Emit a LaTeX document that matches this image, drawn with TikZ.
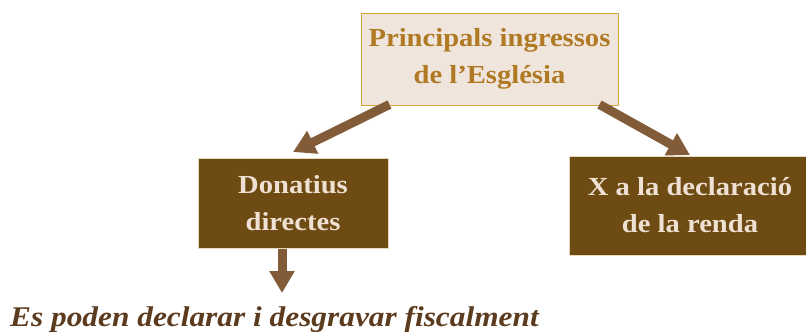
\documentclass[tikz,border=0pt]{standalone}
\usepackage{fontspec}
\setmainfont{Liberation Serif}
\newfontfamily\boxfont[FakeStretch=1.1]{Liberation Serif}
\usetikzlibrary{arrows.meta,calc}
\definecolor{topfill}{HTML}{EFE5DC}
\definecolor{topline}{HTML}{D4A53A}
\definecolor{toptext}{HTML}{B07A24}
\definecolor{darkfill}{HTML}{6E4B12}
\definecolor{darkline}{HTML}{E8D8C0}
\definecolor{lighttext}{HTML}{EEE0D2}
\definecolor{arrowcol}{HTML}{825C38}
\definecolor{notecol}{HTML}{5C3B1E}
\tikzset{
  topbox/.style={draw=topline, line width=1pt, fill=topfill, text=toptext,
    font=\boxfont\bfseries\fontsize{26}{37}\selectfont, align=center, inner sep=0pt},
  darkbox/.style={draw=darkline, line width=1pt, fill=darkfill, text=lighttext,
    font=\boxfont\bfseries\fontsize{26}{37}\selectfont, align=center, inner sep=0pt},
  bigarrow/.style={draw=arrowcol, line width=9pt,
    -{Triangle[width=24pt,length=22pt]}, fill=arrowcol},
  notetext/.style={text=notecol, font=\boxfont\bfseries\itshape\fontsize{28.5}{34}\selectfont,
    inner sep=0pt, anchor=base west}
}
\begin{document}
\begin{tikzpicture}[x=1pt,y=-1pt]
\useasboundingbox (0,0) rectangle (806,332);
\fill[white] (0,0) rectangle (806,332);
\node[topbox, minimum width=257pt, minimum height=92pt] (top) at (489.5,59)
  {Principals ingressos\\de l’Església};
\node[darkbox, minimum width=190pt, minimum height=90pt] (left) at (293,203)
  {Donatius\\directes};
\node[darkbox, minimum width=242pt, minimum height=99pt] (right) at (690,205.5)
  {X a la declaració\\de la renda};
\node[notetext] (note) at (10,326) {Es poden declarar i desgravar fiscalment};
\coordinate (lt) at (293,152);
\coordinate (rt) at (690,155);
\coordinate (dt) at (282,293);
\draw[bigarrow] ($(top.south west)+(29,-1)$) -- (lt);
\draw[bigarrow] ($(top.south west)+(239,-1)$) -- (rt);
\draw[bigarrow] (left.south -| dt) -- (dt);
\end{tikzpicture}
\end{document}
